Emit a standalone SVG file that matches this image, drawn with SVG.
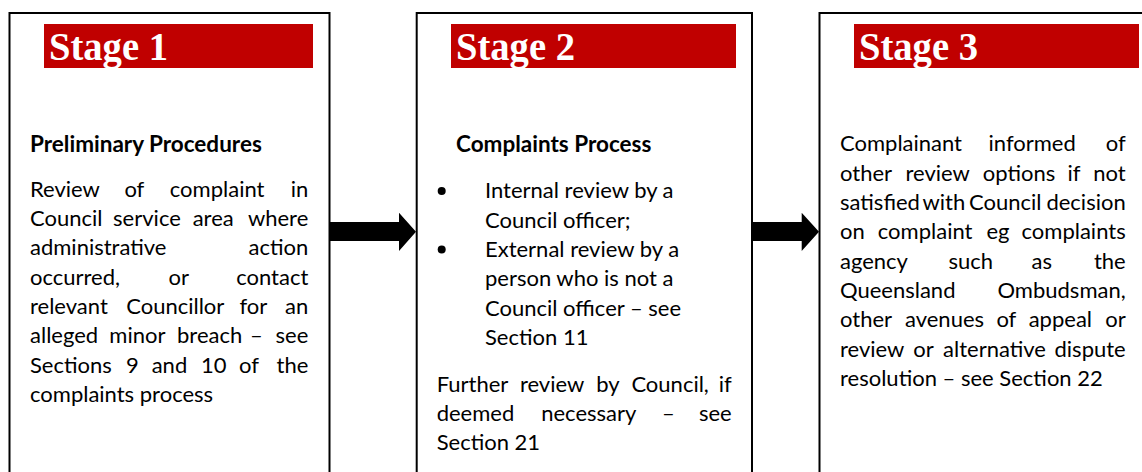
<svg xmlns="http://www.w3.org/2000/svg" width="1142" height="472" viewBox="0 0 1142 472">
<style>
.box{fill:#fff;stroke:#000;stroke-width:2}
.bar{fill:#C00000}
.stage{font-family:"Liberation Serif",serif;font-weight:bold;font-size:41px;fill:#fff}
.t{font-family:Lato,"Liberation Sans",sans-serif;font-size:22px;fill:#000}
.b{font-family:Lato,"Liberation Sans",sans-serif;font-size:22.5px;font-weight:bold;fill:#000}
.e{text-anchor:end}
.arrow{fill:#000}
</style>
<rect x="0" y="0" width="1142" height="472" fill="#fff"/>
<g id="stage1">
<rect class="box" x="9.5" y="13" width="320" height="480"/>
<rect class="bar" x="44" y="24" width="269" height="44"/>
<text class="stage" x="49" y="60" textLength="119" lengthAdjust="spacingAndGlyphs">Stage 1</text>
<text class="b" x="30" y="152">Preliminary Procedures</text>
<text class="t" y="196.7"><tspan x="30">Review</tspan><tspan x="124.4">of</tspan><tspan x="169.8">complaint</tspan><tspan class="e" x="308.3">in</tspan></text>
<text class="t" y="226"><tspan x="30">Council</tspan><tspan x="113.1">service</tspan><tspan x="192.7">area</tspan><tspan class="e" x="308.3">where</tspan></text>
<text class="t" y="255.3"><tspan x="30">administrative</tspan><tspan class="e" x="308.3">action</tspan></text>
<text class="t" y="284.6"><tspan x="30">occurred,</tspan><tspan x="168.5">or</tspan><tspan class="e" x="308.3">contact</tspan></text>
<text class="t" y="313.9"><tspan x="30">relevant</tspan><tspan x="126.2">Councillor</tspan><tspan x="239.4">for</tspan><tspan class="e" x="308.3">an</tspan></text>
<text class="t" y="343.2"><tspan x="30">alleged</tspan><tspan x="109.3">minor</tspan><tspan x="177">breach</tspan><tspan x="250">–</tspan><tspan class="e" x="308.3">see</tspan></text>
<text class="t" y="372.5"><tspan x="30">Sections</tspan><tspan x="126">9</tspan><tspan x="151.7">and</tspan><tspan x="201">10</tspan><tspan x="239">of</tspan><tspan class="e" x="308.3">the</tspan></text>
<text class="t" x="30" y="401.8">complaints process</text>
</g>
<g id="stage2">
<rect class="box" x="416.7" y="13" width="335.3" height="480"/>
<rect class="bar" x="451" y="24" width="285" height="44"/>
<text class="stage" x="456" y="60" textLength="119" lengthAdjust="spacingAndGlyphs">Stage 2</text>
<text class="b" x="456" y="152">Complaints Process</text>
<circle cx="441.7" cy="191" r="4" fill="#000"/>
<circle cx="441.7" cy="249.6" r="4" fill="#000"/>
<text class="t" x="485" y="198.3">Internal review by a</text>
<text class="t" x="485" y="227.6">Council officer;</text>
<text class="t" x="485" y="256.9">External review by a</text>
<text class="t" x="485" y="286.2">person who is not a</text>
<text class="t" x="485" y="315.5">Council officer – see</text>
<text class="t" x="485" y="344.8">Section 11</text>
<text class="t" y="391.7"><tspan x="436.7">Further</tspan><tspan x="519.9">review</tspan><tspan x="596.2">by</tspan><tspan x="631.4">Council,</tspan><tspan class="e" x="731.7">if</tspan></text>
<text class="t" y="421"><tspan x="436.7">deemed</tspan><tspan x="541.2">necessary</tspan><tspan x="662">–</tspan><tspan class="e" x="731.7">see</tspan></text>
<text class="t" x="436.7" y="450.3">Section 21</text>
</g>
<g id="stage3">
<rect class="box" x="819.5" y="13" width="340" height="480"/>
<rect class="bar" x="854" y="24" width="285" height="44"/>
<text class="stage" x="859" y="60" textLength="119" lengthAdjust="spacingAndGlyphs">Stage 3</text>
<text class="t" y="151.4"><tspan x="840">Complainant</tspan><tspan x="988.5">informed</tspan><tspan class="e" x="1125.7">of</tspan></text>
<text class="t" y="180.7"><tspan x="840">other</tspan><tspan x="905.5">review</tspan><tspan x="982.8">options</tspan><tspan x="1067.5">if</tspan><tspan class="e" x="1125.7">not</tspan></text>
<text class="t" y="210"><tspan x="840">satisfied</tspan><tspan x="922.5">with</tspan><tspan x="969">Council</tspan><tspan class="e" x="1125.7">decision</tspan></text>
<text class="t" y="239.3"><tspan x="840">on</tspan><tspan x="877.8">complaint</tspan><tspan x="986.5">eg</tspan><tspan class="e" x="1125.7">complaints</tspan></text>
<text class="t" y="268.6"><tspan x="840">agency</tspan><tspan x="948.5">such</tspan><tspan x="1031.5">as</tspan><tspan class="e" x="1125.7">the</tspan></text>
<text class="t" y="297.9"><tspan x="840">Queensland</tspan><tspan class="e" x="1125.7">Ombudsman,</tspan></text>
<text class="t" y="327.2"><tspan x="840">other</tspan><tspan x="905">avenues</tspan><tspan x="996.4">of</tspan><tspan x="1028.7">appeal</tspan><tspan class="e" x="1125.7">or</tspan></text>
<text class="t" y="356.5"><tspan x="840">review</tspan><tspan x="913.3">or</tspan><tspan x="943.1">alternative</tspan><tspan class="e" x="1125.7">dispute</tspan></text>
<text class="t" x="840" y="385.8">resolution – see Section 22</text>
</g>
<g id="connectors">
<polygon class="arrow" points="329,222 399,222 399,212.7 416,231.8 399,251 399,241 329,241"/>
<polygon class="arrow" points="752,222 801.7,222 801.7,212.7 819,231.8 801.7,251 801.7,241 752,241"/>
</g>
</svg>
